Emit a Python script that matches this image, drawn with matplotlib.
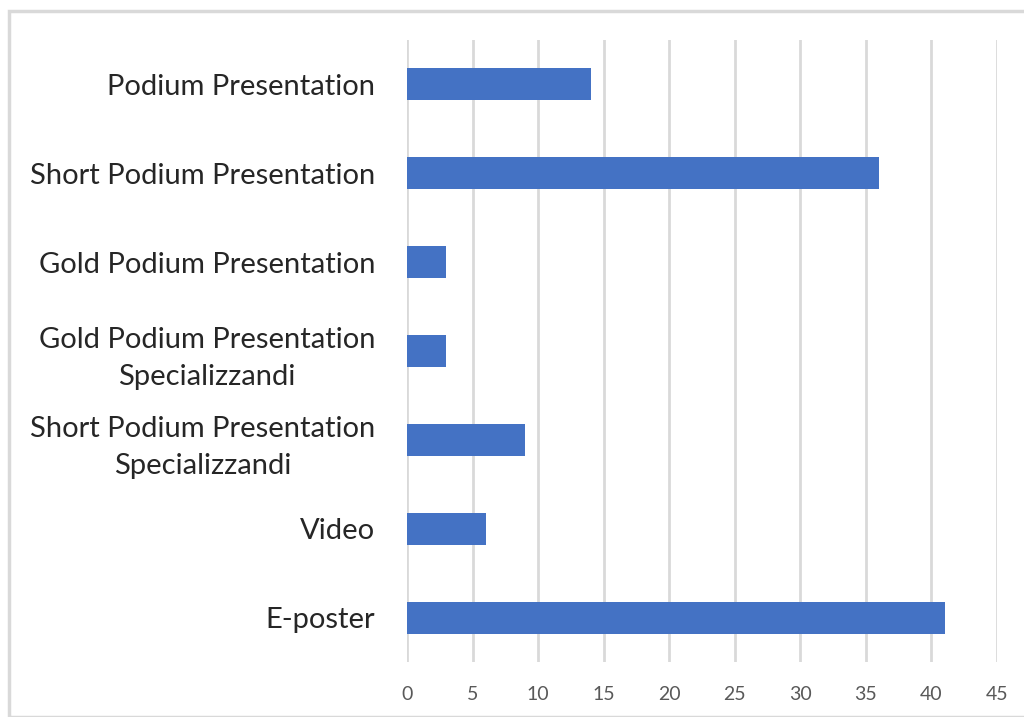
import matplotlib.pyplot as plt
from matplotlib.patches import Rectangle

categories = [
    "Podium Presentation",
    "Short Podium Presentation",
    "Gold Podium Presentation",
    "Gold Podium Presentation\nSpecializzandi",
    "Short Podium Presentation\nSpecializzandi",
    "Video",
    "E-poster",
]
counts = [14, 36, 3, 3, 9, 6, 41]
x_ticks = [0, 5, 10, 15, 20, 25, 30, 35, 40, 45]

plt.rcParams['font.family'] = ['Lato', 'DejaVu Sans']

W, H = 1024, 717
fig = plt.figure(figsize=(W / 100, H / 100), dpi=100)

# thin grey frame around the chart area
fig.patches.append(Rectangle((9 / W, 0), 1.2, 1 - 11 / H, transform=fig.transFigure,
                             fill=False, edgecolor="#d9d9d9", linewidth=2.5))

ax = fig.add_axes([407 / W, 1 - 662 / H, (997 - 407) / W, (662 - 40) / H])

pos = list(range(len(categories)))
ax.barh(pos, counts, height=0.36, color="#4472C4", zorder=3)
ax.set_ylim(len(categories) - 0.5, -0.5)
ax.set_xlim(0, 45)
ax.set_xticks(x_ticks)
ax.set_yticks(pos)
ax.set_yticklabels(categories, fontsize=21, color="#262626", ha="right",
                   multialignment="center", linespacing=1.5)
ax.tick_params(axis="y", length=0, pad=23)
ax.tick_params(axis="x", length=0, pad=17, labelsize=14, labelcolor="#595959")

ax.grid(axis="x", color="#d9d9d9", linewidth=2, zorder=0)
for s in ax.spines.values():
    s.set_visible(False)

fig.savefig("out.png", dpi=100)
